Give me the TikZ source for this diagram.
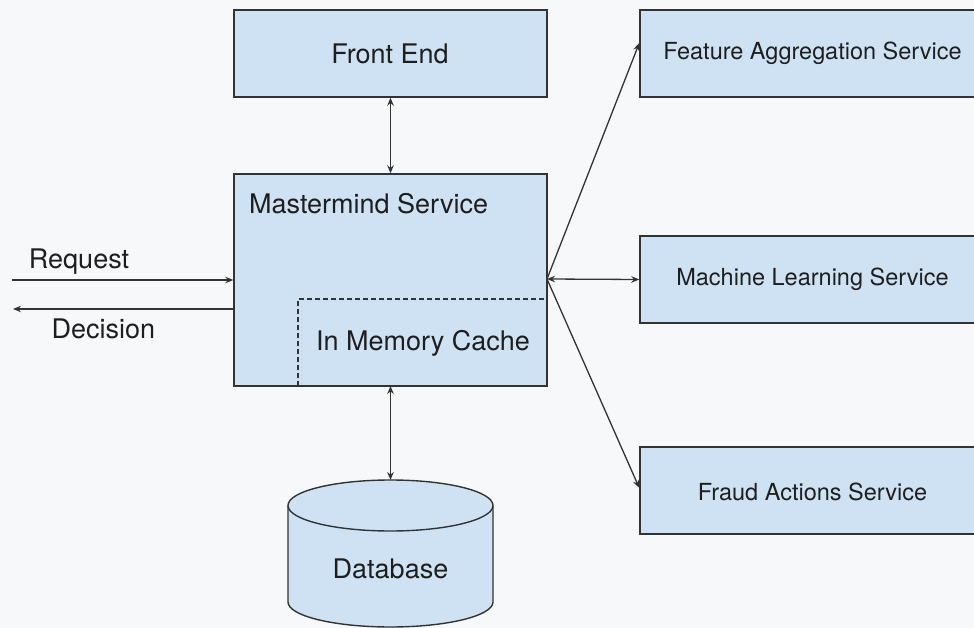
\documentclass[tikz,border=0pt]{standalone}
\usepackage{fontspec}
\setmainfont{TeX Gyre Heros}
\usetikzlibrary{arrows.meta}
\definecolor{bg}{HTML}{F7F8FA}
\definecolor{boxfill}{HTML}{CFE2F3}
\definecolor{edge}{HTML}{333333}
\definecolor{ink}{HTML}{1E1E1E}
\tikzset{
  box/.style={draw=edge, line width=1.4pt, fill=boxfill, inner sep=0pt, text=ink},
  bigtxt/.style={font=\fontsize{27}{32}\selectfont, text=ink, inner sep=0pt},
  smalltxt/.style={font=\fontsize{23.5}{28}\selectfont, text=ink, inner sep=0pt},
  link/.style={draw=edge, line width=1.3pt, -{Stealth[length=8pt,width=6.5pt]}},
  dlink/.style={draw=edge, line width=1.3pt, {Stealth[length=8pt,width=6.5pt]}-{Stealth[length=8pt,width=6.5pt]}}
}
\begin{document}
\begin{tikzpicture}[x=1pt,y=-1pt]
  \fill[bg] (0,0) rectangle (974,628);
  \useasboundingbox (0,0) rectangle (974,628);
  \clip (0,0) rectangle (974,628);

  % boxes
  \node[box, minimum width=313pt, minimum height=87pt] (fe) at (390.5,53.5) {};
  \node[bigtxt] (fetxt) at (390,54) {Front End};

  \node[box, minimum width=313pt, minimum height=212pt] (mm) at (390.5,280) {};
  \node[bigtxt, anchor=west] (mmtxt) at (249,204) {Mastermind Service};

  % in-memory cache region inside the mastermind box
  \draw[edge, line width=1.2pt, dash pattern=on 5pt off 3pt] (298,386) -- (298,299) -- (547,299);
  \node[bigtxt] (cache) at (423,343) {In Memory Cache};

  \node[box, minimum width=345pt, minimum height=87pt] (fas) at (812.5,53.5) {};
  \node[smalltxt] (fastxt) at (812.5,53) {Feature Aggregation Service};
  \node[box, minimum width=345pt, minimum height=87pt] (mls) at (812.5,279.5) {};
  \node[smalltxt] (mlstxt) at (812.5,279) {Machine Learning Service};
  \node[box, minimum width=345pt, minimum height=87pt] (fra) at (812.5,490.5) {};
  \node[smalltxt] (fratxt) at (812.5,492) {Fraud Actions Service};

  % database cylinder
  \path[box] (288,505.5) -- (288,602) arc[start angle=180, end angle=360, x radius=102.5pt, y radius=25pt]
    -- (493,505.5) arc[start angle=0, end angle=180, x radius=102.5pt, y radius=25.5pt] -- cycle;
  \draw[edge, line width=1.4pt] (288,505.5) arc[start angle=180, end angle=360, x radius=102.5pt, y radius=25.5pt];
  \coordinate (dbtop) at (390.5,480);
  \node[bigtxt] (db) at (390.5,569) {Database};

  % request / decision
  \coordinate (reqin) at (12,280);
  \coordinate (decout) at (13,309);
  \node[bigtxt] (req) at (79,262) {Request};
  \node[bigtxt] (dec) at (103.5,329) {Decision};
  \draw[link] (reqin) -- (reqin -| mm.west);
  \draw[link] (decout -| mm.west) -- (decout);

  % connectors
  \draw[dlink] (fe.south) -- (mm.north);
  \draw[dlink] (390.5,386) -- (dbtop);
  \coordinate (hub) at (547,279);
  \draw[link] (hub) -- ([yshift=10.5pt]fas.west);
  \draw[dlink] (hub) -- (mls.west);
  \draw[link] (hub) -- ([yshift=2.5pt]fra.west);
\end{tikzpicture}
\end{document}
